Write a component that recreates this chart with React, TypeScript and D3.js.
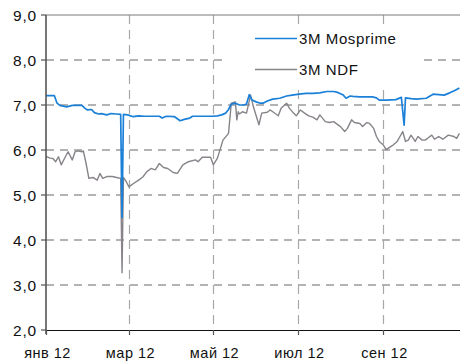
import React from "react";
import * as d3 from "d3";

// 3M Mosprime fixing, %
const mosprimeDates = [
  "2012-01-01", "2012-01-07", "2012-01-09", "2012-01-11", "2012-01-16", "2012-01-20", "2012-01-27", "2012-01-29",
  "2012-01-31", "2012-02-03", "2012-02-05", "2012-02-08", "2012-02-10", "2012-02-14", "2012-02-17", "2012-02-21",
  "2012-02-24", "2012-02-25", "2012-02-26", "2012-02-29", "2012-03-04", "2012-03-08", "2012-03-12", "2012-03-17",
  "2012-03-23", "2012-03-25", "2012-03-28", "2012-04-03", "2012-04-07", "2012-04-10", "2012-04-14", "2012-04-16",
  "2012-04-30", "2012-05-04", "2012-05-07", "2012-05-10", "2012-05-12", "2012-05-14", "2012-05-17", "2012-05-20",
  "2012-05-23", "2012-05-25", "2012-05-27", "2012-05-29", "2012-06-01", "2012-06-04", "2012-06-06", "2012-06-09",
  "2012-06-13", "2012-06-18", "2012-06-23", "2012-06-27", "2012-07-02", "2012-07-07", "2012-07-12", "2012-07-17",
  "2012-07-22", "2012-07-27", "2012-07-30", "2012-08-03", "2012-08-05", "2012-08-08", "2012-08-10", "2012-08-15",
  "2012-08-24", "2012-08-27", "2012-08-29", "2012-09-03", "2012-09-10", "2012-09-14", "2012-09-16", "2012-09-17",
  "2012-09-21", "2012-09-25", "2012-10-02", "2012-10-06", "2012-10-07", "2012-10-15", "2012-10-19", "2012-10-23",
  "2012-10-26",
];
const mosprimeValues = [
  7.21, 7.21, 7.04, 6.99, 6.96, 6.99, 6.99, 6.93,
  6.89, 6.90, 6.83, 6.80, 6.81, 6.78, 6.81, 6.80,
  6.79, 4.5, 6.79, 6.78, 6.74, 6.76, 6.75, 6.75,
  6.75, 6.71, 6.75, 6.74, 6.65, 6.68, 6.71, 6.75,
  6.75, 6.76, 6.78, 6.82, 6.90, 7.02, 7.04, 7.00,
  7.00, 7.02, 7.23, 7.11, 7.07, 7.04, 7.04, 7.09,
  7.13, 7.15, 7.20, 7.22, 7.24, 7.26, 7.26, 7.27,
  7.30, 7.30, 7.28, 7.22, 7.15, 7.20, 7.19, 7.18,
  7.18, 7.16, 7.11, 7.11, 7.12, 7.17, 6.55, 7.16,
  7.14, 7.13, 7.15, 7.22, 7.24, 7.22, 7.27, 7.33,
  7.38,
];

// 3M NDF implied yield, %
const ndfDates = [
  "2012-01-01", "2012-01-04", "2012-01-06", "2012-01-08", "2012-01-10", "2012-01-12", "2012-01-15", "2012-01-17",
  "2012-01-20", "2012-01-22", "2012-01-24", "2012-01-27", "2012-01-28", "2012-01-30", "2012-02-01", "2012-02-04",
  "2012-02-07", "2012-02-09", "2012-02-11", "2012-02-14", "2012-02-18", "2012-02-21", "2012-02-24", "2012-02-25",
  "2012-02-26", "2012-02-28", "2012-03-01", "2012-03-04", "2012-03-08", "2012-03-11", "2012-03-14", "2012-03-17",
  "2012-03-20", "2012-03-23", "2012-03-26", "2012-03-29", "2012-04-02", "2012-04-05", "2012-04-09", "2012-04-13",
  "2012-04-18", "2012-04-20", "2012-04-23", "2012-04-29", "2012-05-01", "2012-05-04", "2012-05-06", "2012-05-08",
  "2012-05-12", "2012-05-14", "2012-05-17", "2012-05-18", "2012-05-19", "2012-05-20", "2012-05-22", "2012-05-25",
  "2012-05-28", "2012-05-30", "2012-06-03", "2012-06-05", "2012-06-09", "2012-06-11", "2012-06-13", "2012-06-17",
  "2012-06-19", "2012-06-23", "2012-06-25", "2012-06-28", "2012-06-30", "2012-07-03", "2012-07-06", "2012-07-09",
  "2012-07-12", "2012-07-15", "2012-07-17", "2012-07-21", "2012-07-24", "2012-07-27", "2012-08-01", "2012-08-04",
  "2012-08-06", "2012-08-09", "2012-08-11", "2012-08-15", "2012-08-17", "2012-08-20", "2012-08-22", "2012-08-25",
  "2012-08-27", "2012-08-29", "2012-09-01", "2012-09-03", "2012-09-06", "2012-09-08", "2012-09-11", "2012-09-13",
  "2012-09-15", "2012-09-17", "2012-09-19", "2012-09-21", "2012-09-24", "2012-09-26", "2012-09-29", "2012-10-01",
  "2012-10-03", "2012-10-06", "2012-10-08", "2012-10-11", "2012-10-14", "2012-10-18", "2012-10-22", "2012-10-24",
  "2012-10-26",
];
const ndfValues = [
  5.86, 5.82, 5.81, 5.74, 5.85, 5.67, 5.85, 5.96,
  5.78, 5.96, 5.98, 5.96, 5.98, 5.70, 5.37, 5.39,
  5.33, 5.48, 5.37, 5.41, 5.41, 5.39, 5.37, 3.27,
  5.39, 5.30, 5.18, 5.25, 5.33, 5.40, 5.52, 5.59,
  5.56, 5.70, 5.61, 5.59, 5.50, 5.48, 5.67, 5.74,
  5.78, 5.74, 5.84, 5.84, 5.67, 5.82, 6.02, 6.22,
  6.37, 7.04, 7.07, 6.67, 6.85, 6.80, 6.85, 6.82,
  7.22, 6.96, 6.56, 6.82, 6.84, 6.89, 6.85, 6.76,
  6.93, 7.04, 6.93, 6.82, 6.76, 6.89, 6.82, 6.76,
  6.73, 6.67, 6.78, 6.63, 6.61, 6.63, 6.52, 6.41,
  6.48, 6.67, 6.61, 6.59, 6.52, 6.61, 6.59, 6.48,
  6.30, 6.19, 6.11, 6.01, 6.07, 6.11, 6.19, 6.30,
  6.41, 6.19, 6.22, 6.33, 6.19, 6.30, 6.22, 6.22,
  6.26, 6.33, 6.24, 6.30, 6.24, 6.33, 6.30, 6.26,
  6.37,
];

const yTicks = [2, 3, 4, 5, 6, 7, 8, 9];
const xTickDates = ["2012-01-01", "2012-03-01", "2012-05-01", "2012-07-01", "2012-09-01"];
const monthNames = ["янв", "фев", "мар", "апр", "май", "июн", "июл", "авг", "сен", "окт", "ноя", "дек"];
const seriesNames = ["3M Mosprime", "3M NDF"];
const seriesColors = ["#1b80d8", "#878389"];

const W = 460;
const H = 363;
const M = { left: 46, right: 0, top: 15, bottom: 33 };
const FONT = "'Liberation Sans', Arial, Helvetica, sans-serif";

const parse = d3.timeParse("%Y-%m-%d");

export default function App() {
  const x = d3
    .scaleTime()
    .domain([new Date(2012, 0, 1), new Date(2012, 9, 26, 10)])
    .range([M.left, W - M.right]);
  const y = d3.scaleLinear().domain([2, 9]).range([H - M.bottom, M.top]);

  const line = d3
    .line<[Date, number]>()
    .x((d) => x(d[0]))
    .y((d) => y(d[1]));

  const mosprime = mosprimeDates.map((d, i) => [parse(d)!, mosprimeValues[i]] as [Date, number]);
  const ndf = ndfDates.map((d, i) => [parse(d)!, ndfValues[i]] as [Date, number]);

  const fmtY = (v: number) => d3.format(".1f")(v).replace(".", ",");
  const fmtX = (d: Date) => `${monthNames[d.getMonth()]} ${String(d.getFullYear()).slice(2)}`;

  const x0 = M.left;
  const x1 = W - M.right;
  const yTop = y(9);
  const yBot = y(2);

  return (
    <div style={{ position: "absolute", left: 0, top: 0 }}>
      <svg width={W} height={H} style={{ display: "block", fontFamily: FONT }}>
        <rect x={0} y={0} width={W} height={H} fill="#ffffff" />

        {/* horizontal grid */}
        {yTicks
          .filter((t) => t !== 2 && t !== 9)
          .map((t) => (
            <line
              key={"hg" + t}
              x1={x0}
              x2={x1}
              y1={y(t)}
              y2={y(t)}
              stroke="#9a9a9a"
              strokeWidth={1.3}
              strokeDasharray="8,6"
            />
          ))}

        {/* vertical grid */}
        {xTickDates.slice(1).map((s) => {
          const px = Math.round(x(parse(s)!)) + 0.5;
          return (
            <line
              key={"vg" + s}
              x1={px}
              x2={px}
              y1={yTop}
              y2={yBot}
              stroke="#a8a8a8"
              strokeWidth={1.2}
              strokeDasharray="9,6"
            />
          );
        })}

        {/* top frame */}
        <line x1={x0} x2={x1} y1={yTop} y2={yTop} stroke="#7a7a7a" strokeWidth={1.2} />

        {/* legend background */}
        <rect x={226} y={26} width={197} height={60} fill="#ffffff" />

        {/* series */}
        <path d={line(ndf) ?? ""} fill="none" stroke={seriesColors[1]} strokeWidth={1.4} strokeLinejoin="round" />
        <path d={line(mosprime) ?? ""} fill="none" stroke={seriesColors[0]} strokeWidth={1.7} strokeLinejoin="round" />

        {/* legend */}
        {seriesNames.map((name, i) => {
          const ly = 38.5 + i * 31;
          return (
            <g key={name}>
              <line x1={255} x2={297} y1={ly} y2={ly} stroke={seriesColors[i]} strokeWidth={1.6} />
              <text x={299} y={ly + 5.5} fontSize={15} letterSpacing={0.6} fill="#111">
                {name}
              </text>
            </g>
          );
        })}

        {/* y axis */}
        <line x1={x0} x2={x0} y1={yTop} y2={yBot + 4} stroke="#555" strokeWidth={1.6} />
        {yTicks.map((t) => (
          <g key={"yt" + t}>
            <line x1={x0 - 5} x2={x0} y1={y(t)} y2={y(t)} stroke="#555" strokeWidth={1.2} />
            <text x={x0 - 9} y={y(t) + 5.5} fontSize={15.5} letterSpacing={0.8} textAnchor="end" fill="#111">
              {fmtY(t)}
            </text>
          </g>
        ))}

        {/* x axis */}
        <line x1={x0} x2={x1} y1={yBot + 0.5} y2={yBot + 0.5} stroke="#111" strokeWidth={1.2} />
        {xTickDates.map((s) => {
          const d = parse(s)!;
          const px = Math.round(x(d)) + 0.5;
          return (
            <g key={"xt" + s}>
              <line x1={px} x2={px} y1={yBot} y2={yBot + 5} stroke="#555" strokeWidth={1.2} />
              <text x={px + 1} y={yBot + 28} fontSize={14.5} letterSpacing={0.5} textAnchor="middle" fill="#111">
                {fmtX(d)}
              </text>
            </g>
          );
        })}
      </svg>
    </div>
  );
}
